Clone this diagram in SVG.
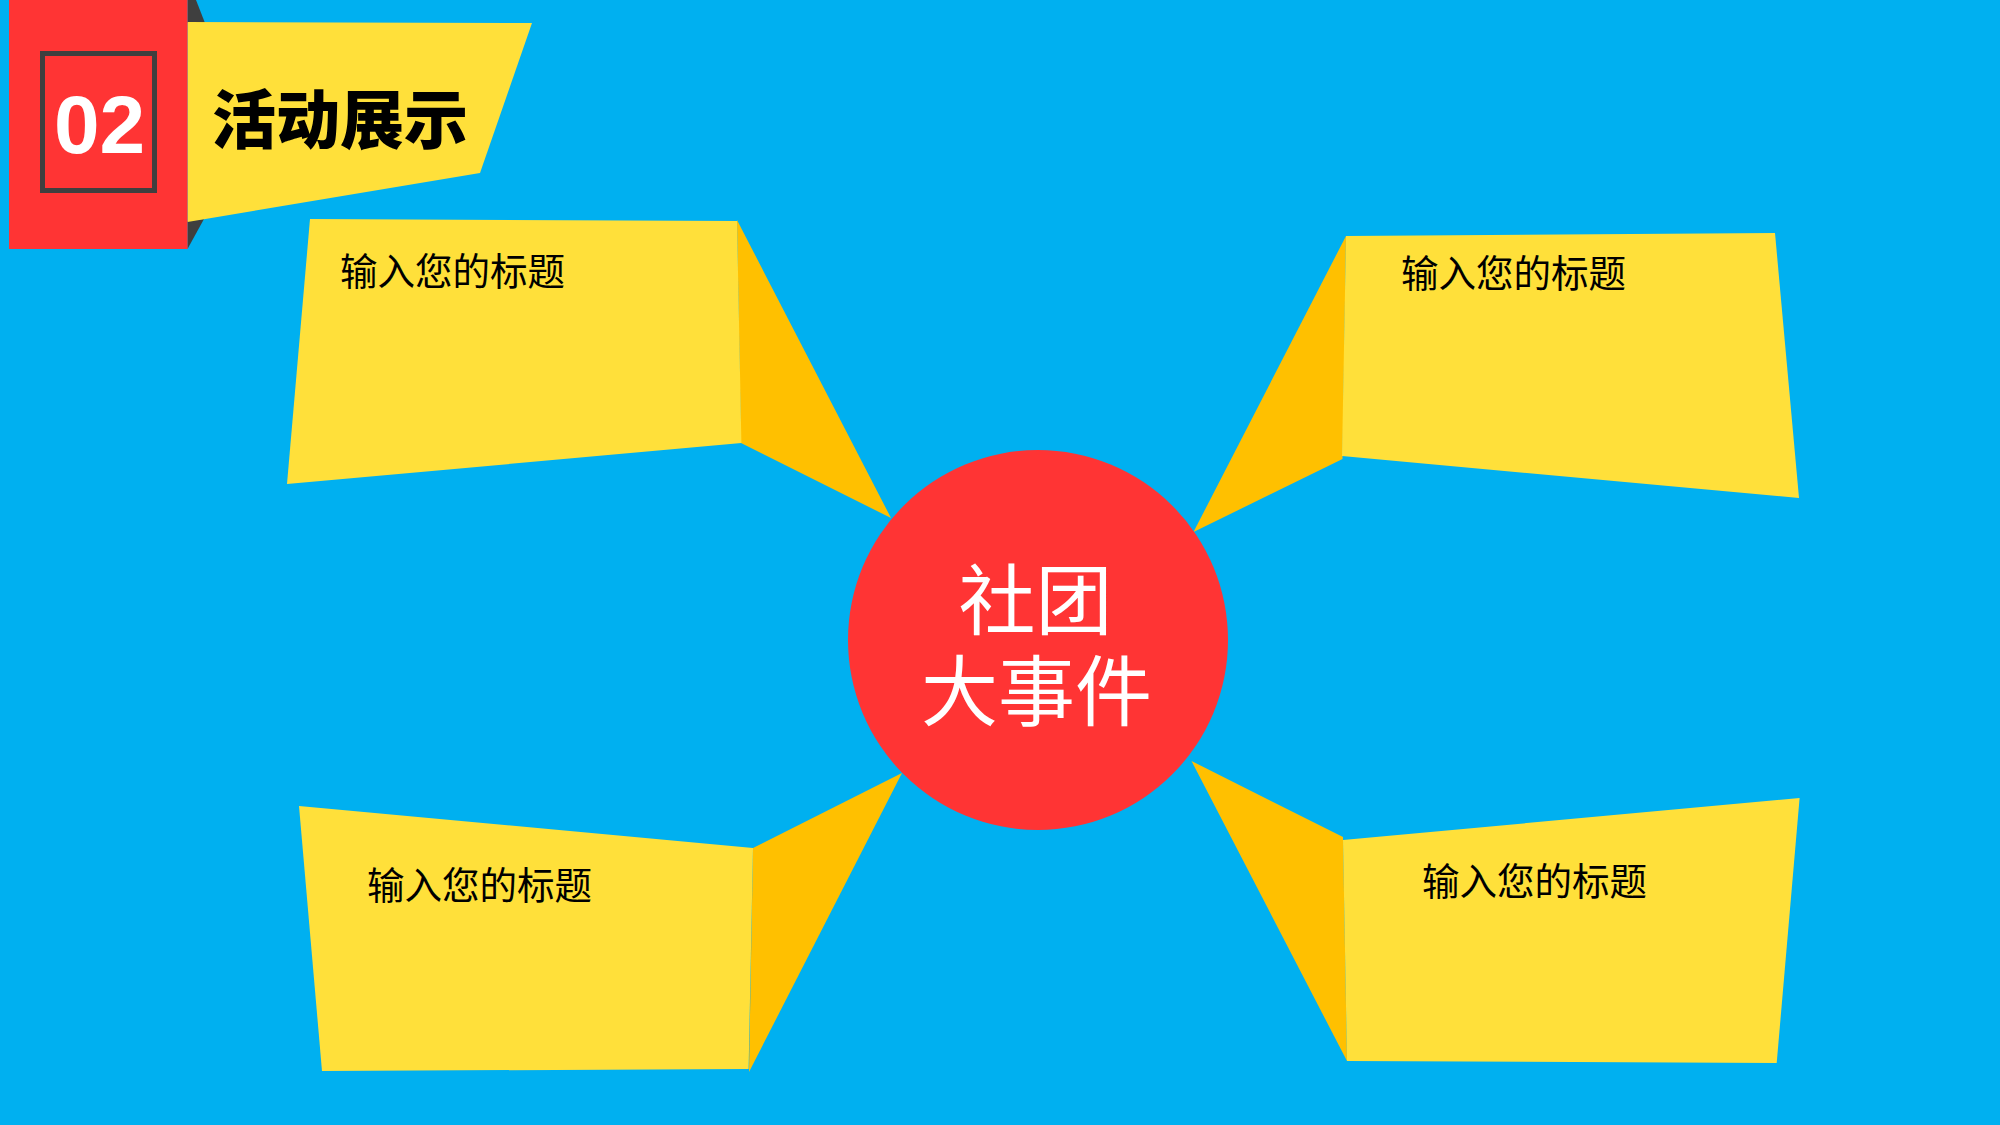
<svg xmlns="http://www.w3.org/2000/svg" width="2000" height="1125" viewBox="0 0 2000 1125">
<style>
.bg{fill:#00B0F0}
.card{fill:#FFE03A}
.fold{fill:#FFC000}
.red{fill:#FF3434}
.dark{fill:#3F3F3F}
.lbl{font-family:"Noto Sans CJK SC","Liberation Sans",sans-serif;font-size:37.5px;fill:#000}
.center{font-family:"Noto Sans CJK SC","Liberation Sans",sans-serif;font-size:77px;fill:#fff;text-anchor:middle}
</style>
<rect class="bg" x="0" y="0" width="2000" height="1125"/>
<g id="header">
<polygon class="dark" points="187.5,0 196,0 205,23 187.5,23"/>
<polygon class="dark" points="187.5,221 204,219 187.5,249"/>
<polygon class="card" points="187.5,22 532,23 480,173 187.5,222"/>
<rect class="red" x="9" y="0" width="178.5" height="249"/>
<rect x="42.5" y="53.5" width="112" height="137" fill="none" stroke="#3F3F3F" stroke-width="5"/>
<text x="99.5" y="153" text-anchor="middle" font-family="Liberation Sans,Arial,sans-serif" font-weight="bold" font-size="82" fill="#fff">02</text>
<text x="212" y="143" font-family="Noto Sans CJK SC,sans-serif" font-weight="900" font-size="64" fill="#000">活动展示</text>
</g>
<g id="connectors">
<polygon class="fold" points="737,220 891,518 741,443"/>
<polygon class="fold" points="1346,236 1193.5,532 1342.5,459"/>
<polygon class="fold" points="753,848 902,773 749,1072"/>
<polygon class="fold" points="1343,837 1191.5,761 1347,1061"/>
</g>
<g id="card-tl">
<polygon class="card" points="310,219 737,221 741.4,443 287,484"/>
<text class="lbl" x="340" y="285">输入您的标题</text>
</g>
<g id="card-tr">
<polygon class="card" points="1346,236 1775,233 1799,498 1342,456"/>
<text class="lbl" x="1401" y="287">输入您的标题</text>
</g>
<g id="card-bl">
<polygon class="card" points="299,806 753,848 748.6,1069 322,1071"/>
<text class="lbl" x="367" y="899">输入您的标题</text>
</g>
<g id="card-br">
<polygon class="card" points="1343,840 1799.6,798 1776.7,1063 1347,1061"/>
<text class="lbl" x="1422" y="895">输入您的标题</text>
</g>
<g id="hub">
<circle class="red" cx="1038" cy="640" r="190"/>
<text class="center"><tspan x="1035.5" y="629">社团</tspan><tspan x="1036.5" y="720">大事件</tspan></text>
</g>
</svg>
